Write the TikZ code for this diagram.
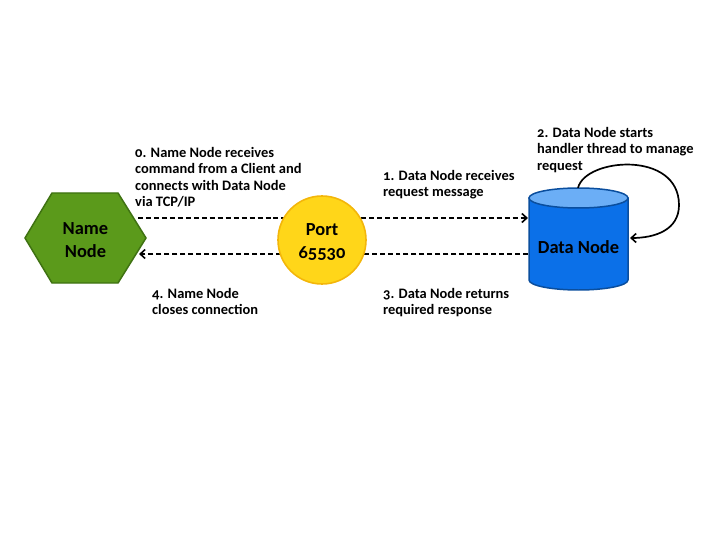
\documentclass[tikz,border=0pt]{standalone}
\usepackage{fontspec}
\setmainfont{Carlito}[Numbers=OldStyle]
\usetikzlibrary{arrows.meta}
\definecolor{hexfill}{HTML}{5B9A1B}
\definecolor{hexdraw}{HTML}{3F7212}
\definecolor{portfill}{HTML}{FFD619}
\definecolor{portdraw}{HTML}{F3B60A}
\definecolor{cylfill}{HTML}{0B70E8}
\definecolor{cyltop}{HTML}{6BAEF6}
\definecolor{cyldraw}{HTML}{0A4E9E}
\tikzset{
  note/.style={anchor=north west, inner sep=0pt, align=left, font=\fontsize{14.5}{16.6}\selectfont\bfseries},
  big/.style={inner sep=0pt, align=center, font=\fontsize{18.5}{22.5}\selectfont\bfseries},
  flow/.style={line width=1.7pt, dash pattern=on 5pt off 3pt, -{Straight Barb[length=5pt,width=9pt,line width=1.6pt]}},
  loop/.style={line width=1.7pt, -{Straight Barb[length=5pt,width=9pt,line width=1.6pt]}}
}
\begin{document}
\begin{tikzpicture}[x=1bp,y=-1bp]
\useasboundingbox (0,0) rectangle (720,540);
% coordinates
\coordinate (a1s) at (138,218);
\coordinate (a1e) at (528,218);
\coordinate (a2s) at (528,254);
\coordinate (a2e) at (139,254);
\coordinate (ls) at (578,188);
\coordinate (le) at (630,238);
% arrows
\draw[flow] (a1s) -- (a1e);
\draw[flow] (a2s) -- (a2e);
% hexagon
\draw[hexdraw, fill=hexfill, line width=1.5pt] (25,238) -- (52,193) -- (118,193) -- (146,238) -- (118,283) -- (52,283) -- cycle;
\node[big] (nn) at (85.5,240) {Name\\Node};
% port circle
\draw[portdraw, fill=portfill, line width=1.6pt] (322,240) circle[radius=44];
\node[big] (port) at (322,242) {Port\\65530};
% cylinder
\draw[cyldraw, fill=cylfill, line width=1.5pt] (529,198) -- (529,280) arc[start angle=180, end angle=0, x radius=49.5, y radius=10] -- (628,198) -- cycle;
\draw[cyldraw, fill=cyltop, line width=1.5pt] (578.5,198) ellipse[x radius=49.5, y radius=10];
\node[big] (dn) at (578.5,247) {Data Node};
% self loop
\draw[loop] (ls) .. controls (585,158) and (679,150) .. (679,205) .. controls (679,230) and (655,238) .. (le);
% notes
\node[note] (t0) at (135,147) {0. Name Node receives\\command from a Client and\\connects with Data Node\\via TCP/IP};
\node[note] (t1) at (383,170) {1. Data Node receives\\request message};
\node[note] (t2) at (537,127) {2. Data Node starts\\handler thread to manage\\request};
\node[note] (t3) at (383,288) {3. Data Node returns\\required response};
\node[note] (t4) at (152,288) {4. Name Node\\closes connection};
\end{tikzpicture}
\end{document}
